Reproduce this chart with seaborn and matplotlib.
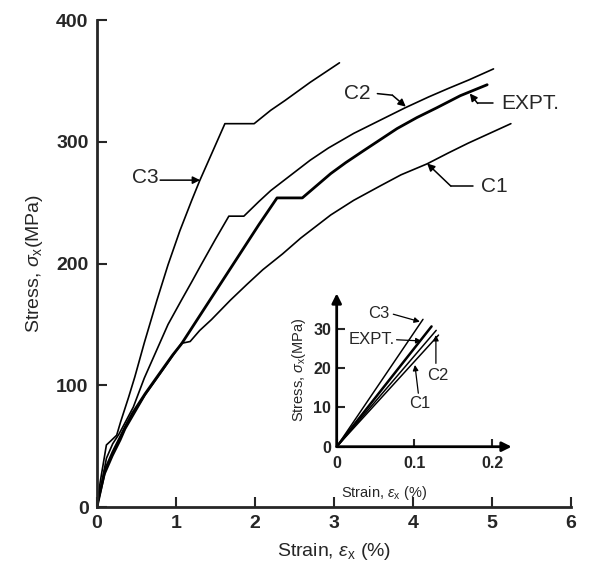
import pandas as pd
import numpy as np
import matplotlib
matplotlib.use("Agg")
import matplotlib.pyplot as plt
import seaborn as sns

sns.set_style("ticks")
plt.rcParams['font.family'] = ['Liberation Sans', 'DejaVu Sans']
plt.rcParams['mathtext.fontset'] = 'custom'
plt.rcParams['mathtext.rm'] = 'Liberation Sans'
plt.rcParams['mathtext.it'] = 'Liberation Sans:italic'

# =========================
# DATA
# =========================

# main plot: strain (%) vs stress (MPa)
c3_x = [0, 0.04, 0.12, 0.17, 0.25, 0.30, 0.40, 0.48, 0.60, 0.76, 0.90, 1.05, 1.20, 1.30, 1.45, 1.62,
        1.99, 2.20, 2.38, 2.70, 3.07]
c3_y = [0, 20, 51, 54, 59, 70, 90, 107, 135, 170, 199, 227, 252, 268, 290, 315,
        315, 326, 334, 349, 365]

c2_x = [0, 0.05, 0.12, 0.20, 0.28, 0.46, 0.60, 0.75, 0.90, 1.07, 1.20, 1.31, 1.50, 1.67,
        1.86, 2.05, 2.20, 2.50, 2.70, 2.93, 3.25, 3.59, 3.90, 4.20, 4.45, 4.71, 5.02]
c2_y = [0, 16, 40, 52, 60, 82, 106, 128, 150, 170, 185, 198, 220, 239,
        239, 251, 260, 275, 285, 295, 307, 318, 328, 337, 344, 351, 360]

expt_x = [0, 0.10, 0.20, 0.30, 0.36, 0.45, 0.61, 0.73, 0.85, 0.96, 1.07, 1.43, 1.80, 2.05, 2.28,
          2.60, 2.96, 3.15, 3.38, 3.80, 4.05, 4.30, 4.60, 4.94]
expt_y = [0, 30, 45, 58, 66, 77, 93, 104, 115, 125, 134, 170, 207, 232, 254,
          254, 274, 283, 293, 311, 320, 328, 338, 347]

c1_x = [0, 0.10, 0.20, 0.30, 0.36, 0.61, 0.85, 1.07, 1.18, 1.30, 1.45, 1.69, 1.90, 2.10, 2.35,
        2.58, 2.96, 3.25, 3.59, 3.85, 4.18, 4.45, 4.70, 4.97, 5.24]
c1_y = [0, 27, 42, 55, 64, 92, 114, 134.5, 136, 145, 154, 170, 183, 195, 208,
        221, 240, 252, 264, 273, 282, 291, 299, 307, 315]

# inset: initial linear part
ins_x = {'C3': [0, 0.111], 'EXPT.': [0, 0.122], 'C2': [0, 0.128], 'C1': [0, 0.131]}
ins_y = {'C3': [0, 32.4], 'EXPT.': [0, 30.6], 'C2': [0, 29.6], 'C1': [0, 28.4]}

main_xticks = [0, 1, 2, 3, 4, 5, 6]
main_yticks = [0, 100, 200, 300, 400]
ins_xticks = [0, 0.1, 0.2]
ins_xlabels = ['0', '0.1', '0.2']
ins_yticks = [0, 10, 20, 30]

curves = pd.concat([
    pd.DataFrame({'strain': c3_x, 'stress': c3_y, 'case': 'C3'}),
    pd.DataFrame({'strain': c2_x, 'stress': c2_y, 'case': 'C2'}),
    pd.DataFrame({'strain': expt_x, 'stress': expt_y, 'case': 'EXPT.'}),
    pd.DataFrame({'strain': c1_x, 'stress': c1_y, 'case': 'C1'}),
])
inset = pd.concat([pd.DataFrame({'strain': ins_x[k], 'stress': ins_y[k], 'case': k}) for k in ins_x])

widths = {'C3': 1.2, 'C2': 1.2, 'EXPT.': 2.0, 'C1': 1.2}

# =========================
# FIGURE
# =========================

fig = plt.figure(figsize=(5.91, 5.70), dpi=100)
ax = fig.add_axes([0.164, 0.1105, 0.802, 0.854])

for case, grp in curves.groupby('case', sort=False):
    sns.lineplot(data=grp, x='strain', y='stress', ax=ax, color='black',
                 lw=widths[case], sort=False, estimator=None)

ax.set_xlim(0, 6)
ax.set_ylim(0, 400)
ax.set_xticks(main_xticks)
ax.set_yticks(main_yticks)
ax.tick_params(direction='in', length=7, width=1.5, labelsize=14, pad=6)
for lab in ax.get_xticklabels() + ax.get_yticklabels():
    lab.set_fontweight('bold')
sns.despine(ax=ax)
for s in ['left', 'bottom']:
    ax.spines[s].set_linewidth(2)
ax.set_xlabel(r'Strain, $\varepsilon_{\rm x}$ (%)', fontsize=14, labelpad=6)
ax.set_ylabel(r'Stress, $\sigma_{\rm x}$(MPa)', fontsize=14, labelpad=8)

arrow = dict(arrowstyle='-|>', color='black', lw=1.1, mutation_scale=11, shrinkA=0, shrinkB=0)

ax.text(0.61, 271, 'C3', fontsize=15, ha='center', va='center')
ax.annotate('', xy=(1.307, 268.6), xytext=(0.80, 268.6), arrowprops=arrow)

ax.text(3.30, 339.7, 'C2', fontsize=15, ha='center', va='center')
ax.plot([3.55, 3.74], [339.7, 338.4], color='black', lw=1.1)
ax.annotate('', xy=(3.91, 329), xytext=(3.74, 338.4), arrowprops=arrow)

ax.text(5.49, 331.6, 'EXPT.', fontsize=15, ha='center', va='center')
ax.plot([5.01, 4.82], [331.6, 331.6], color='black', lw=1.1)
ax.annotate('', xy=(4.72, 339.8), xytext=(4.82, 331.6), arrowprops=arrow)

ax.text(5.03, 263, 'C1', fontsize=15, ha='center', va='center')
ax.plot([4.755, 4.48], [263.7, 263.7], color='black', lw=1.1)
ax.annotate('', xy=(4.18, 282.3), xytext=(4.48, 263.7), arrowprops=arrow)

# =========================
# INSET
# =========================

axi = fig.add_axes([0.5697, 0.2163, 0.296, 0.269])
for case, grp in inset.groupby('case', sort=False):
    sns.lineplot(data=grp, x='strain', y='stress', ax=axi, color='black',
                 lw=widths[case] * 0.9, sort=False, estimator=None)
axi.set_xlim(0, 0.225)
axi.set_ylim(0, 39)
axi.set_xticks(ins_xticks)
axi.set_xticklabels(ins_xlabels)
axi.set_yticks(ins_yticks)
axi.tick_params(direction='in', length=6, width=1.5, labelsize=11.5, pad=4)
axi.tick_params(axis='x', pad=7)
for lab in axi.get_xticklabels() + axi.get_yticklabels():
    lab.set_fontweight('bold')
axi.patch.set_alpha(0)
for s in axi.spines.values():
    s.set_visible(False)
axis_arrow = dict(arrowstyle='-|>', color='black', lw=2, mutation_scale=14, shrinkA=0, shrinkB=0)
axi.annotate('', xy=(0.225, 0), xytext=(0, 0), arrowprops=axis_arrow, annotation_clip=False)
axi.annotate('', xy=(0, 39), xytext=(0, 0), arrowprops=axis_arrow, annotation_clip=False)
axi.set_xlabel(r'Strain, $\varepsilon_{\rm x}$ (%)', fontsize=10.5, labelpad=8)
axi.xaxis.set_label_coords(0.27, -0.24)
axi.set_ylabel(r'Stress, $\sigma_{\rm x}$(MPa)', fontsize=10.5, labelpad=4)

small = dict(arrowstyle='-|>', color='black', lw=0.9, mutation_scale=8, shrinkA=0, shrinkB=0)
axi.text(0.0535, 33.9, 'C3', fontsize=12, ha='center', va='center')
axi.annotate('', xy=(0.107, 31.8), xytext=(0.0728, 33.7), arrowprops=small)
axi.text(0.045, 27.2, 'EXPT.', fontsize=12, ha='center', va='center')
axi.annotate('', xy=(0.109, 26.9), xytext=(0.077, 27.2), arrowprops=small)
axi.text(0.1306, 18.2, 'C2', fontsize=12, ha='center', va='center')
axi.annotate('', xy=(0.1276, 28.4), xytext=(0.1276, 21.2), arrowprops=small)
axi.text(0.107, 11.0, 'C1', fontsize=12, ha='center', va='center')
axi.annotate('', xy=(0.1006, 20.8), xytext=(0.105, 13.6), arrowprops=small)

fig.savefig("out.png", dpi=100)
